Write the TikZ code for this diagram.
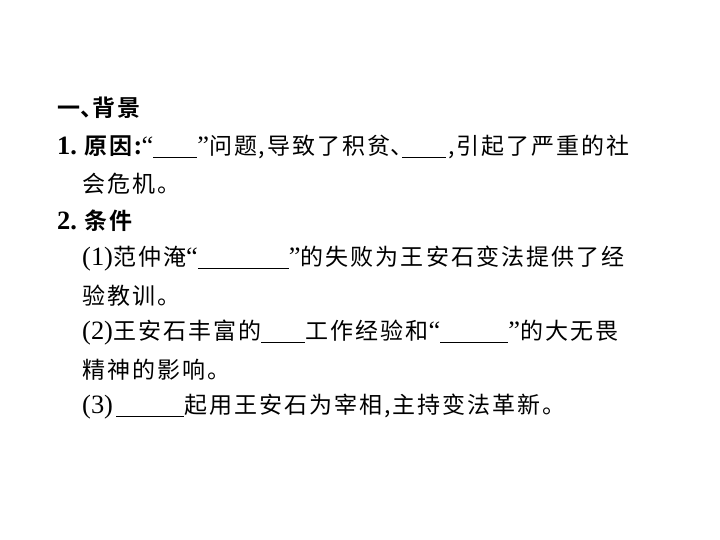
\documentclass[tikz,border=0pt]{standalone}
\usepackage{fontspec}
\usepackage{tikz}
\usetikzlibrary{positioning}
\newfontfamily\cjk[LetterSpace=9]{Noto Sans CJK SC}
\newfontfamily\cjkbf[LetterSpace=9]{Noto Sans CJK SC Bold}
\newfontfamily\latin[Scale=1.15]{Liberation Serif}
\newcommand{\blank}[1]{\rule[-3bp]{#1bp}{1bp}}
\newcommand{\qopen}{{\latin “}}
\newcommand{\qclose}{{\latin ”}}
\newcommand{\zhcomma}{\makebox[10bp]{,}}
\newcommand{\zhdun}{\makebox[12bp][l]{、}}
\tikzstyle{body line}=[anchor=west, inner sep=0pt, font=\fontsize{23bp}{28bp}\cjk]
\tikzstyle{head line}=[body line, font=\fontsize{23bp}{28bp}\cjkbf]

\begin{document}
\begin{tikzpicture}[x=1bp, y=-1bp]
      \useasboundingbox[fill=white] (0,0) rectangle (720,540);

      \node[head line] (title) at (57,108) {一\zhdun 背景};
      \node[body line] (cause1) at (57,147)
        {{\latin\bfseries 1.}\hspace{7bp}{\cjkbf 原因:}\qopen\blank{44}\qclose
         问题\zhcomma 导致了积贫\zhdun\blank{44}\zhcomma 引起了严重的社};
      \node[body line] (cause2) at (82,184) {会危机。};
      \node[head line] (cond) at (57,221) {{\latin\bfseries 2.}\hspace{7bp}条件};

      % conditions
      \node[body line] (cond1a) at (82,259)
        {{\latin (1)}范仲淹\qopen\blank{91}\qclose 的失败为王安石变法提供了经};
      \node[body line] (cond1b) at (82,296) {验教训。};
      \node[body line] (cond2a) at (82,333)
        {{\latin (2)}王安石丰富的\blank{44}工作经验和\qopen\blank{68}\qclose 的大无畏};
      \node[body line] (cond2b) at (82,370) {精神的影响。};
      \node[body line] (cond3) at (82,407)
        {{\latin (3)}\hspace{3bp}\blank{68}起用王安石为宰相\zhcomma 主持变法革新。};
    \end{tikzpicture}
\end{document}
